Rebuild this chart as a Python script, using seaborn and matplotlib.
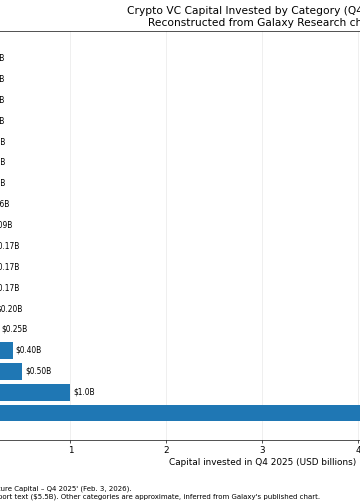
import matplotlib
matplotlib.use("Agg")
import matplotlib.pyplot as plt
import seaborn as sns
import pandas as pd

# ---- data (top -> bottom as drawn) ----
categories = [
    "Mining", "DAO", "Metaverse", "NFT", "Social", "Gaming", "Privacy",
    "Custody/Wallets", "Lending", "Layer 2", "Payments", "Stablecoins",
    "Layer 1", "DeFi", "AI", "Tokenization/RWA", "Infrastructure",
    "Trading/Exchange/Investing",
]
values = [0.01, 0.01, 0.01, 0.01, 0.02, 0.02, 0.02, 0.06, 0.09,
          0.17, 0.17, 0.17, 0.20, 0.25, 0.40, 0.50, 1.0, 5.5]
value_labels = [f"${v:.1f}B" if v >= 1 else f"${v:.2f}B" for v in values]

title_text = ("Crypto VC Capital Invested by Category (Q4 2025)\n"
              "Reconstructed from Galaxy Research chart")
xlabel_text = "Capital invested in Q4 2025 (USD billions)"
xtick_values = [0, 1, 2, 3, 4, 5]
footnote_1 = ("Source: Galaxy Research, 'Crypto & Blockchain Venture Capital \u2013 "
              "Q4 2025' (Feb. 3, 2026).")
footnote_2 = ("Note: Largest category value taken from report text ($5.5B). Other "
              "categories are approximate, inferred from Galaxy's published chart.")

df = pd.DataFrame({"category": categories, "value": values})

DPI = 60
S = 1.06  # font scale
fig = plt.figure(figsize=(360 / DPI, 504 / DPI), dpi=DPI)

# axes geometry in pixels (the left part of the chart lies outside the canvas)
x0_px = -25.5
px_per_unit = 96.0
xmax = max(values) * 1.09
ax_w_px = xmax * px_per_unit
ax_top_px, ax_bot_px = 31, 440
ax = fig.add_axes([x0_px / 360, 1 - ax_bot_px / 504,
                   ax_w_px / 360, (ax_bot_px - ax_top_px) / 504])

sns.barplot(data=df, x="value", y="category", order=categories,
            color="#1f77b4", saturation=1, width=0.8, ax=ax)

n = len(categories)
m = 0.05 * (n - 1 + 0.8)
ax.set_ylim(n - 1 + 0.4 + m, -0.4 - m)
ax.set_xlim(0, xmax)
ax.set_xticks(xtick_values)
ax.tick_params(axis="x", labelsize=10 * S, length=3.5, width=0.8)
ax.tick_params(axis="y", labelsize=10 * S)
ax.set_ylabel("")
ax.set_xlabel(xlabel_text, fontsize=10 * S)
ax.grid(axis="x", alpha=0.3)
ax.set_axisbelow(True)
for s in ax.spines.values():
    s.set_color("black")
    s.set_linewidth(0.8)

for i, (v, lab) in enumerate(zip(values, value_labels)):
    ax.text(v + 0.03, i, lab, va="center", ha="left", fontsize=8.5 * S)

ax.set_title(title_text, fontsize=12 * S)

fig.text(132 / 360, 1 - 490 / 504, footnote_1, ha="right", va="baseline", fontsize=8 * S)
fig.text(320 / 360, 1 - 498 / 504, footnote_2, ha="right", va="baseline", fontsize=8 * S)

fig.savefig("out.png", dpi=DPI)
